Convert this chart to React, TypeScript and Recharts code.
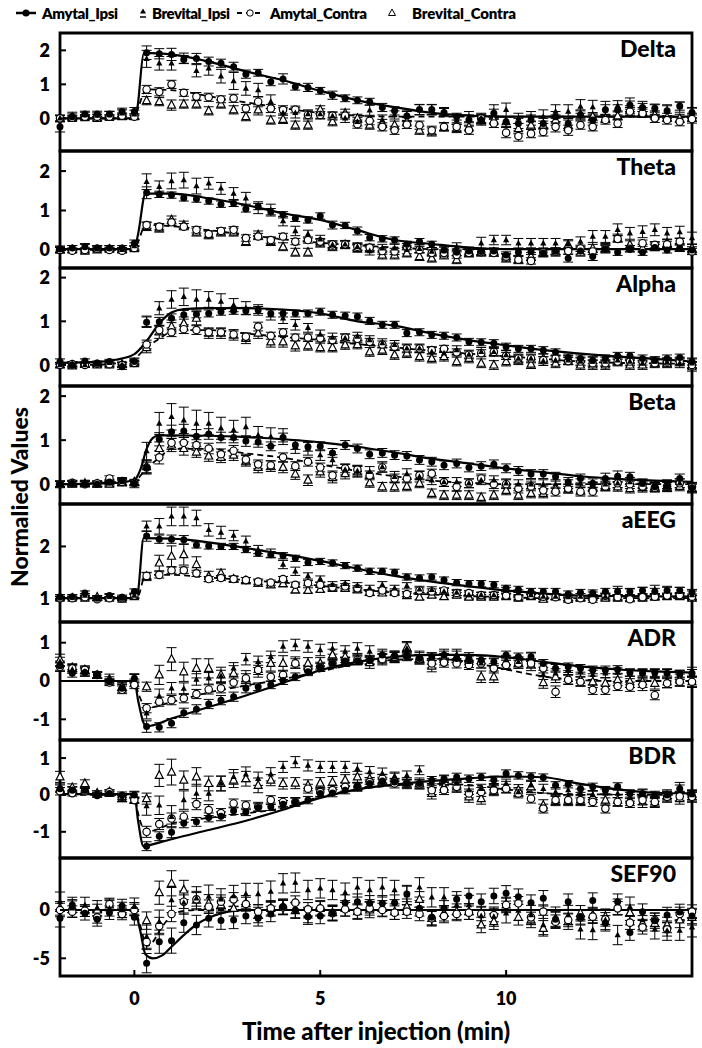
import React from 'react';
import { ComposedChart, XAxis, YAxis, Scatter, Line, ErrorBar, ReferenceArea } from 'recharts';

const FONT = 'Lato, "Open Sans", sans-serif';

const times = [-2, -1.67, -1.33, -1, -0.67, -0.33, 0, 0.33, 0.67, 1, 1.33, 1.67, 2,
  2.33, 2.67, 3, 3.33, 3.67, 4, 4.33, 4.67, 5, 5.33, 5.67, 6, 6.33,
  6.67, 7, 7.33, 7.67, 8, 8.33, 8.67, 9, 9.33, 9.67, 10, 10.33, 10.67,
  11, 11.33, 11.67, 12, 12.33, 12.67, 13, 13.33, 13.67, 14, 14.33, 14.67, 15];

const xTicks = [0, 5, 10];
const seriesNames = ['Amytal_Ipsi', 'Brevital_Ipsi', 'Amytal_Contra', 'Brevital_Contra'];

// ---------------- Delta ----------------
const deltaAI = [-0.25, 0.05, 0.13, 0.13, 0.13, 0.2, 0.2, 1.93, 1.9, 1.88, 1.73, 1.76, 1.67, 1.62, 1.52, 1.3, 1.34, 1.08, 1.16, 0.93, 0.91, 0.81, 0.68, 0.59, 0.53, 0.49, 0.32, 0.22, 0.07, 0.26, 0.26, 0.17, 0.05, -0.05, -0.05, 0.15, -0.1, -0.15, -0.05, -0.15, 0.05, -0.15, 0.1, -0.05, 0.25, 0.25, 0.39, 0.32, 0.3, 0.22, 0.36, 0.17];
const deltaBI = [0.0, 0.1, 0.1, 0.08, 0.1, 0.15, 0.12, 1.75, 1.62, 1.62, 1.77, 1.4, 1.47, 1.24, 1.1, 0.88, 0.83, 0.49, 0.16, 0.16, 0.13, 0.13, 0.07, 0.0, -0.1, 0.24, -0.05, 0.1, 0.05, 0.25, 0.25, 0.2, -0.05, 0.05, 0.0, 0.2, 0.25, 0.0, 0.05, 0.05, 0.2, 0.2, 0.35, 0.33, 0.3, 0.37, 0.4, 0.35, 0.25, 0.2, 0.33, 0.15];
const deltaAC = [0.0, 0.02, 0.05, 0.05, 0.05, 0.08, 0.05, 0.85, 0.78, 1.0, 0.75, 0.64, 0.62, 0.56, 0.59, 0.29, 0.49, 0.29, 0.25, 0.26, 0.1, 0.1, 0.08, 0.08, -0.17, -0.07, -0.25, -0.35, -0.18, -0.2, -0.35, -0.25, -0.25, -0.35, 0.0, -0.15, -0.42, -0.52, -0.45, -0.4, -0.25, -0.35, -0.2, -0.25, -0.05, -0.15, 0.2, 0.15, 0.0, -0.05, -0.1, -0.02];
const deltaBC = [0.0, 0.0, 0.02, 0.0, 0.03, 0.05, 0.05, 0.52, 0.49, 0.39, 0.42, 0.42, 0.22, 0.42, 0.25, 0.05, 0.25, -0.05, -0.03, -0.2, -0.2, 0.25, -0.1, 0.15, 0.0, -0.2, -0.15, -0.2, -0.1, -0.35, -0.4, -0.25, -0.3, -0.25, -0.05, -0.05, -0.1, -0.3, -0.2, -0.2, -0.05, -0.2, 0.1, 0.05, 0.0, 0.07, 0.25, 0.2, 0.1, 0.03, 0.0, 0.03];
const deltaAIErr = [0.15,0.08,0.08,0.08,0.08,0.1,0.12,0.2,0.15,0.18,0.12,0.15,0.13,
  0.12,0.13,0.12,0.1,0.12,0.15,0.1,0.12,0.1,0.12,0.1,0.1,0.1,
  0.12,0.12,0.15,0.15,0.15,0.12,0.1,0.15,0.15,0.12,0.15,0.15,0.15,
  0.15,0.15,0.15,0.15,0.15,0.15,0.15,0.12,0.12,0.12,0.15,0.12,0.15];
const deltaBIErr = [0.1,0.08,0.08,0.08,0.1,0.1,0.12,0.25,0.2,0.2,0.15,0.18,0.2,
  0.2,0.25,0.2,0.2,0.2,0.15,0.15,0.12,0.15,0.12,0.12,0.12,0.15,
  0.15,0.12,0.15,0.15,0.15,0.12,0.12,0.15,0.15,0.2,0.2,0.15,0.15,
  0.2,0.2,0.2,0.2,0.2,0.2,0.15,0.2,0.15,0.15,0.2,0.15,0.15];
const deltaACErr = [0.08,0.06,0.06,0.06,0.06,0.08,0.08,0.12,0.12,0.12,0.1,0.12,0.12,
  0.1,0.12,0.12,0.15,0.12,0.12,0.1,0.12,0.1,0.1,0.1,0.12,0.12,
  0.12,0.12,0.12,0.12,0.12,0.12,0.12,0.12,0.12,0.12,0.15,0.15,0.12,
  0.12,0.15,0.15,0.12,0.12,0.12,0.12,0.12,0.12,0.12,0.12,0.12,0.12];
const deltaBCErr = [0.08,0.06,0.06,0.06,0.06,0.08,0.08,0.12,0.12,0.15,0.12,0.12,0.12,
  0.12,0.12,0.12,0.15,0.12,0.12,0.12,0.12,0.12,0.12,0.12,0.12,0.12,
  0.12,0.12,0.12,0.12,0.12,0.12,0.12,0.12,0.12,0.12,0.15,0.15,0.12,
  0.12,0.15,0.15,0.12,0.12,0.12,0.12,0.12,0.12,0.12,0.12,0.12,0.12];
const deltaFitAIt = [-2, 0, 0.08, 0.25, 0.4, 1, 2, 3, 4, 5, 6, 7, 8, 9, 10, 12, 15];
const deltaFitAIv = [0, 0, 0.3, 1.9, 1.92, 1.88, 1.67, 1.38, 1.12, 0.81, 0.53, 0.33, 0.16, 0.08, 0.05, 0.05, 0.05];
const deltaFitACt = [-2, 0, 0.1, 0.33, 1, 2, 3, 4, 5, 6, 7, 15];
const deltaFitACv = [0, 0, 0.3, 0.85, 0.83, 0.65, 0.47, 0.3, 0.16, 0.08, 0.05, 0.05];

// ---------------- Theta ----------------
const thetaAI = [0.02, 0.05, 0.08, 0.05, 0.05, 0.05, 0.17, 1.45, 1.41, 1.39, 1.32, 1.29, 1.24, 1.16, 1.18, 1.04, 1.1, 0.97, 0.89, 0.8, 0.76, 0.86, 0.63, 0.62, 0.48, 0.31, 0.28, 0.25, 0.14, 0.21, 0.14, 0.0, -0.06, -0.03, -0.04, -0.03, -0.13, -0.06, -0.04, -0.08, -0.03, -0.21, -0.03, -0.17, 0.03, -0.06, 0.03, -0.06, 0.06, 0.0, 0.04, 0.0];
const thetaBI = [0.0, 0.05, 0.1, 0.05, 0.05, 0.0, 0.1, 1.73, 1.6, 1.75, 1.77, 1.62, 1.69, 1.56, 1.43, 1.31, 1.07, 1.01, 0.73, 0.48, 0.4, 0.27, 0.13, 0.14, 0.08, -0.03, 0.04, 0.04, 0.0, 0.03, -0.04, -0.03, 0.08, -0.03, 0.17, 0.25, 0.25, 0.17, 0.17, 0.17, 0.17, 0.14, 0.21, 0.34, 0.34, 0.51, 0.42, 0.46, 0.51, 0.42, 0.45, 0.3];
const thetaAC = [0.0, -0.02, 0.0, 0.03, 0.0, -0.02, 0.05, 0.63, 0.59, 0.7, 0.59, 0.51, 0.4, 0.48, 0.51, 0.3, 0.34, 0.25, 0.34, 0.21, 0.25, 0.21, 0.14, 0.14, 0.08, 0.06, -0.03, -0.04, 0.08, 0.0, -0.08, -0.08, -0.13, -0.08, -0.06, -0.08, -0.17, -0.25, -0.28, -0.06, -0.04, -0.03, 0.04, -0.04, 0.04, 0.28, 0.03, 0.17, 0.13, 0.14, 0.21, -0.04];
const thetaBC = [0.0, 0.0, -0.03, 0.0, 0.02, 0.0, 0.03, 0.59, 0.55, 0.76, 0.63, 0.45, 0.38, 0.45, 0.45, 0.21, 0.38, 0.21, 0.08, -0.06, -0.06, 0.17, 0.08, 0.13, 0.04, 0.04, -0.13, -0.13, -0.08, -0.17, -0.21, -0.13, -0.25, -0.08, -0.06, -0.06, -0.21, -0.25, -0.17, -0.08, -0.06, 0.13, -0.06, 0.04, 0.04, 0.3, 0.13, 0.04, 0.08, 0.17, 0.06, 0.04];
const thetaAIErr = [0.08,0.06,0.06,0.06,0.06,0.06,0.08,0.15,0.08,0.08,0.08,0.08,0.08,
  0.08,0.08,0.08,0.08,0.08,0.08,0.08,0.08,0.08,0.1,0.08,0.1,0.08,
  0.08,0.08,0.08,0.08,0.08,0.08,0.08,0.08,0.08,0.08,0.08,0.08,0.08,
  0.08,0.08,0.1,0.08,0.1,0.08,0.08,0.08,0.08,0.08,0.08,0.08,0.08];
const thetaBIErr = [0.08,0.06,0.06,0.06,0.06,0.06,0.08,0.2,0.15,0.2,0.2,0.2,0.15,
  0.15,0.15,0.15,0.15,0.15,0.12,0.12,0.1,0.1,0.1,0.1,0.1,0.1,
  0.1,0.1,0.1,0.1,0.1,0.1,0.1,0.1,0.15,0.12,0.12,0.12,0.12,
  0.12,0.12,0.12,0.12,0.15,0.15,0.15,0.15,0.15,0.15,0.15,0.15,0.15];
const thetaACErr = [0.06,0.05,0.05,0.05,0.05,0.05,0.06,0.08,0.08,0.08,0.08,0.08,0.08,
  0.08,0.08,0.08,0.08,0.08,0.08,0.08,0.08,0.08,0.08,0.08,0.08,0.08,
  0.08,0.08,0.08,0.08,0.08,0.08,0.08,0.08,0.08,0.08,0.08,0.08,0.08,
  0.08,0.08,0.08,0.08,0.08,0.1,0.08,0.08,0.08,0.08,0.08,0.08,0.08];
const thetaBCErr = [0.06,0.05,0.05,0.05,0.05,0.05,0.06,0.1,0.1,0.1,0.1,0.1,0.1,
  0.1,0.1,0.1,0.1,0.1,0.1,0.1,0.1,0.1,0.1,0.1,0.1,0.1,
  0.1,0.1,0.1,0.1,0.1,0.1,0.1,0.1,0.1,0.1,0.1,0.1,0.1,
  0.1,0.1,0.1,0.1,0.1,0.12,0.1,0.1,0.1,0.1,0.1,0.1,0.1];
const thetaFitAIt = [-2, 0, 0.1, 0.3, 1, 2, 3, 4, 5, 6, 7, 8, 9, 10, 15];
const thetaFitAIv = [0.02, 0.02, 0.4, 1.43, 1.43, 1.31, 1.14, 0.93, 0.76, 0.5, 0.25, 0.15, 0.06, 0.02, 0.02];
const thetaFitACt = [-2, 0, 0.1, 0.3, 1, 2, 3, 4, 5, 6, 7, 8, 15];
const thetaFitACv = [0, 0, 0.2, 0.63, 0.6, 0.5, 0.38, 0.27, 0.18, 0.12, 0.06, 0.02, 0.02];

// ---------------- Alpha ----------------
const alphaAI = [0.08, 0.0, 0.09, 0.04, 0.08, -0.04, 0.08, 0.98, 0.99, 1.07, 1.15, 1.16, 1.18, 1.22, 1.24, 1.24, 1.26, 1.18, 1.18, 1.18, 1.18, 1.22, 1.15, 1.13, 1.11, 1.01, 0.92, 0.92, 0.73, 0.75, 0.69, 0.67, 0.63, 0.53, 0.52, 0.5, 0.42, 0.37, 0.37, 0.34, 0.29, 0.17, 0.15, 0.11, 0.15, 0.21, 0.21, 0.15, 0.11, 0.15, 0.17, 0.08];
const alphaBI = [0.0, 0.03, 0.0, 0.02, 0.05, 0.0, 0.1, 1.0, 1.3, 1.5, 1.56, 1.5, 1.5, 1.45, 1.37, 1.3, 1.26, 1.15, 1.07, 0.92, 0.85, 0.7, 0.63, 0.61, 0.65, 0.57, 0.5, 0.46, 0.38, 0.38, 0.3, 0.27, 0.34, 0.24, 0.3, 0.3, 0.23, 0.15, 0.15, 0.09, 0.11, 0.11, 0.08, 0.08, 0.08, 0.11, 0.08, 0.04, 0.08, 0.06, 0.04, 0.04];
const alphaAC = [0.0, 0.02, 0.0, 0.03, 0.02, 0.0, 0.05, 0.47, 0.8, 0.75, 0.82, 0.8, 0.75, 0.75, 0.7, 0.65, 0.88, 0.67, 0.75, 0.63, 0.63, 0.61, 0.57, 0.63, 0.6, 0.53, 0.47, 0.42, 0.38, 0.38, 0.34, 0.37, 0.29, 0.24, 0.27, 0.3, 0.21, 0.15, 0.15, 0.11, 0.15, 0.09, 0.08, 0.04, 0.04, 0.08, 0.08, 0.08, 0.04, 0.08, 0.08, 0.0];
const alphaBC = [0.0, -0.02, 0.02, 0.0, 0.0, 0.02, 0.03, 0.4, 0.76, 0.88, 0.95, 1.07, 0.73, 0.73, 0.69, 0.61, 0.73, 0.53, 0.53, 0.44, 0.44, 0.4, 0.4, 0.46, 0.47, 0.3, 0.34, 0.23, 0.27, 0.19, 0.15, 0.19, 0.08, 0.15, 0.04, 0.0, 0.08, 0.11, 0.02, 0.15, 0.04, 0.11, 0.0, 0.0, 0.0, 0.08, 0.0, 0.0, 0.04, 0.04, 0.08, -0.04];
const alphaAIErr = [0.06,0.05,0.05,0.05,0.05,0.06,0.06,0.12,0.1,0.1,0.1,0.08,0.08,
  0.08,0.08,0.08,0.08,0.08,0.08,0.08,0.08,0.08,0.08,0.08,0.08,0.08,
  0.08,0.08,0.08,0.08,0.08,0.08,0.08,0.08,0.08,0.08,0.08,0.08,0.08,
  0.08,0.08,0.08,0.08,0.08,0.08,0.08,0.08,0.08,0.08,0.08,0.08,0.08];
const alphaBIErr = [0.06,0.05,0.05,0.05,0.05,0.06,0.06,0.12,0.15,0.2,0.2,0.22,0.18,
  0.18,0.15,0.15,0.12,0.12,0.12,0.12,0.1,0.1,0.1,0.1,0.1,0.1,
  0.1,0.1,0.1,0.1,0.1,0.1,0.1,0.1,0.1,0.1,0.1,0.1,0.1,
  0.1,0.1,0.1,0.1,0.1,0.1,0.1,0.1,0.1,0.1,0.1,0.1,0.1];
const alphaACErr = [0.05,0.05,0.05,0.05,0.05,0.05,0.05,0.1,0.1,0.1,0.1,0.1,0.08,
  0.08,0.08,0.08,0.1,0.08,0.08,0.08,0.08,0.08,0.08,0.08,0.08,0.08,
  0.08,0.08,0.08,0.08,0.08,0.08,0.08,0.08,0.08,0.08,0.08,0.08,0.08,
  0.08,0.08,0.08,0.08,0.08,0.08,0.08,0.08,0.08,0.08,0.08,0.08,0.08];
const alphaBCErr = [0.05,0.05,0.05,0.05,0.05,0.05,0.05,0.12,0.15,0.15,0.15,0.15,0.12,
  0.12,0.12,0.12,0.12,0.12,0.12,0.12,0.1,0.1,0.1,0.1,0.1,0.1,
  0.1,0.1,0.1,0.1,0.1,0.1,0.1,0.1,0.1,0.1,0.1,0.1,0.1,
  0.1,0.1,0.1,0.1,0.1,0.1,0.1,0.1,0.1,0.1,0.1,0.1,0.1];
const alphaFitAIt = [-2, -1, -0.5, 0, 0.33, 0.67, 1, 1.33, 2, 3, 4, 5, 6, 7, 8, 9, 10, 11, 12, 13, 14, 15];
const alphaFitAIv = [0.05, 0.07, 0.12, 0.25, 0.55, 0.95, 1.2, 1.28, 1.3, 1.3, 1.27, 1.18, 1.0, 0.9, 0.72, 0.57, 0.45, 0.34, 0.26, 0.19, 0.14, 0.08];
const alphaFitACt = [-2, -1, -0.5, 0, 0.33, 0.67, 1, 1.5, 2, 3, 4, 5, 6, 7, 8, 9, 10, 11, 12, 13, 15];
const alphaFitACv = [0, 0.01, 0.04, 0.15, 0.4, 0.6, 0.76, 0.8, 0.8, 0.72, 0.64, 0.57, 0.48, 0.4, 0.33, 0.26, 0.2, 0.14, 0.08, 0.05, 0.03];

// ---------------- Beta ----------------
const betaAI = [0.0, 0.02, 0.0, 0.0, 0.05, 0.09, 0.02, 0.38, 1.02, 1.19, 1.21, 1.09, 1.14, 1.06, 1.06, 0.98, 0.96, 0.86, 1.06, 0.89, 0.85, 0.86, 0.71, 0.89, 0.81, 0.68, 0.71, 0.66, 0.64, 0.55, 0.51, 0.43, 0.47, 0.38, 0.41, 0.45, 0.36, 0.3, 0.23, 0.23, 0.17, 0.05, 0.13, 0.02, 0.13, 0.18, 0.17, 0.02, -0.06, -0.05, 0.13, -0.08];
const betaBI = [0.0, 0.0, 0.03, 0.0, 0.02, 0.05, 0.0, 0.75, 1.38, 1.53, 1.45, 1.38, 1.38, 1.27, 1.23, 1.3, 1.11, 1.08, 1.08, 0.85, 0.81, 0.66, 0.55, 0.33, 0.3, 0.28, 0.39, 0.17, 0.23, 0.17, 0.09, 0.05, 0.05, 0.02, 0.09, 0.09, 0.02, 0.0, 0.0, 0.0, 0.0, 0.0, 0.02, -0.05, 0.0, 0.02, 0.05, 0.0, -0.06, 0.0, 0.02, -0.06];
const betaAC = [0.0, 0.03, 0.0, 0.02, 0.13, 0.05, 0.03, 0.38, 0.61, 0.94, 0.94, 0.89, 0.81, 0.68, 0.76, 0.56, 0.45, 0.43, 0.61, 0.41, 0.51, 0.38, 0.2, 0.36, 0.33, 0.2, 0.38, 0.13, 0.13, 0.2, 0.24, 0.05, -0.06, 0.02, 0.13, 0.0, 0.0, -0.1, -0.05, -0.14, -0.17, -0.1, -0.17, -0.17, -0.05, 0.02, 0.0, -0.05, -0.08, -0.05, 0.02, -0.06];
const betaBC = [0.0, 0.0, 0.02, 0.0, 0.0, 0.03, 0.05, 0.4, 0.81, 0.89, 0.81, 0.73, 0.64, 0.61, 0.66, 0.53, 0.38, 0.41, 0.38, 0.23, 0.09, 0.28, 0.15, 0.24, 0.28, 0.03, -0.06, -0.06, -0.05, 0.02, -0.21, -0.25, -0.25, -0.25, -0.3, -0.25, -0.14, -0.25, -0.21, -0.21, -0.1, -0.1, -0.14, -0.06, -0.05, -0.06, -0.1, -0.08, -0.05, -0.06, -0.05, -0.1];
const betaAIErr = [0.06,0.06,0.06,0.06,0.06,0.06,0.06,0.15,0.15,0.15,0.15,0.15,0.12,
  0.12,0.12,0.12,0.12,0.1,0.1,0.1,0.1,0.1,0.1,0.1,0.1,0.1,
  0.1,0.1,0.1,0.1,0.1,0.1,0.1,0.1,0.1,0.1,0.1,0.1,0.1,
  0.1,0.1,0.1,0.1,0.1,0.12,0.12,0.1,0.1,0.1,0.12,0.1,0.1];
const betaBIErr = [0.08,0.06,0.06,0.06,0.06,0.08,0.08,0.2,0.25,0.3,0.3,0.3,0.25,
  0.25,0.22,0.22,0.2,0.2,0.18,0.15,0.15,0.12,0.12,0.12,0.12,0.12,
  0.12,0.12,0.12,0.12,0.1,0.1,0.1,0.1,0.1,0.1,0.1,0.1,0.1,
  0.1,0.1,0.1,0.1,0.1,0.1,0.1,0.1,0.1,0.1,0.1,0.1,0.1];
const betaACErr = [0.06,0.06,0.06,0.06,0.06,0.06,0.06,0.12,0.15,0.15,0.12,0.12,0.12,
  0.12,0.12,0.12,0.1,0.1,0.1,0.1,0.1,0.1,0.1,0.1,0.1,0.1,
  0.1,0.1,0.1,0.1,0.1,0.1,0.1,0.1,0.1,0.1,0.1,0.1,0.1,
  0.1,0.1,0.1,0.1,0.1,0.1,0.1,0.1,0.1,0.1,0.1,0.1,0.1];
const betaBCErr = [0.06,0.06,0.06,0.06,0.06,0.06,0.06,0.15,0.15,0.15,0.15,0.12,0.12,
  0.12,0.12,0.12,0.12,0.12,0.12,0.12,0.12,0.12,0.12,0.12,0.12,0.1,
  0.1,0.1,0.1,0.1,0.1,0.1,0.1,0.1,0.1,0.1,0.1,0.1,0.1,
  0.1,0.1,0.1,0.1,0.1,0.1,0.1,0.1,0.1,0.1,0.1,0.1,0.1];
const betaFitAIt = [-2, -0.5, 0, 0.17, 0.33, 0.5, 0.67, 2, 3, 4, 5, 6, 7, 8, 9, 10, 11, 12, 13, 14, 15];
const betaFitAIv = [0, 0.03, 0.1, 0.35, 0.8, 1.05, 1.11, 1.1, 1.07, 1.02, 0.95, 0.85, 0.72, 0.58, 0.47, 0.36, 0.27, 0.18, 0.12, 0.08, 0.05];
const betaFitACt = [-2, 0, 0.33, 0.67, 1, 2, 3, 4, 5, 6, 7, 8, 9, 10, 15];
const betaFitACv = [0, 0.08, 0.36, 0.6, 0.8, 0.8, 0.7, 0.6, 0.45, 0.3, 0.18, 0.08, 0.03, 0, 0];

// ---------------- aEEG ----------------
const aeegAI = [1.03, 1.03, 1.1, 1.0, 1.05, 1.02, 1.13, 2.2, 2.14, 2.14, 2.13, 2.03, 2.01, 2.0, 2.0, 1.94, 1.87, 1.84, 1.82, 1.77, 1.69, 1.71, 1.68, 1.63, 1.58, 1.52, 1.52, 1.5, 1.41, 1.39, 1.41, 1.35, 1.3, 1.28, 1.28, 1.26, 1.19, 1.17, 1.13, 1.13, 1.13, 1.08, 1.11, 1.1, 1.13, 1.13, 1.13, 1.15, 1.13, 1.15, 1.15, 1.11];
const aeegBI = [1.0, 1.02, 1.05, 1.0, 1.03, 1.0, 1.05, 2.39, 2.39, 2.58, 2.58, 2.55, 2.32, 2.27, 2.21, 2.1, 1.94, 1.87, 1.65, 1.52, 1.43, 1.37, 1.26, 1.28, 1.24, 1.19, 1.26, 1.19, 1.24, 1.17, 1.16, 1.13, 1.11, 1.06, 1.06, 1.06, 1.15, 1.1, 1.06, 1.03, 1.03, 1.02, 1.03, 1.06, 1.03, 1.15, 1.1, 1.13, 1.17, 1.15, 1.13, 1.06];
const aeegAC = [1.0, 1.0, 1.02, 0.98, 1.0, 1.0, 1.05, 1.43, 1.45, 1.54, 1.54, 1.48, 1.37, 1.39, 1.37, 1.35, 1.32, 1.3, 1.37, 1.26, 1.29, 1.26, 1.21, 1.23, 1.19, 1.1, 1.15, 1.1, 1.08, 1.15, 1.13, 1.15, 1.1, 1.1, 1.06, 1.06, 1.05, 1.02, 1.05, 1.03, 1.02, 0.97, 1.0, 0.97, 1.05, 1.02, 0.98, 1.02, 1.03, 1.05, 1.06, 1.03];
const aeegBC = [1.0, 1.0, 1.0, 1.02, 1.0, 0.98, 1.03, 1.42, 1.68, 1.81, 1.84, 1.65, 1.42, 1.48, 1.37, 1.34, 1.29, 1.26, 1.28, 1.16, 1.15, 1.17, 1.19, 1.19, 1.16, 1.11, 1.1, 1.13, 1.05, 1.02, 1.06, 1.03, 1.06, 1.02, 1.02, 1.02, 1.03, 1.0, 1.03, 0.98, 1.03, 1.0, 1.0, 1.02, 1.0, 1.0, 1.0, 1.0, 1.02, 1.03, 1.03, 1.0];
const aeegAIErr = [0.04,0.04,0.04,0.04,0.04,0.04,0.05,0.1,0.08,0.08,0.08,0.06,0.06,
  0.06,0.06,0.06,0.06,0.06,0.06,0.06,0.06,0.06,0.06,0.06,0.06,0.06,
  0.06,0.06,0.06,0.06,0.06,0.06,0.06,0.06,0.06,0.06,0.06,0.06,0.06,
  0.06,0.06,0.06,0.06,0.06,0.06,0.06,0.06,0.06,0.06,0.06,0.06,0.06];
const aeegBIErr = [0.04,0.04,0.04,0.04,0.04,0.04,0.05,0.1,0.15,0.18,0.18,0.15,0.12,
  0.12,0.1,0.1,0.08,0.08,0.08,0.08,0.06,0.06,0.06,0.06,0.06,0.06,
  0.06,0.06,0.06,0.06,0.06,0.06,0.06,0.06,0.06,0.06,0.06,0.06,0.06,
  0.06,0.06,0.06,0.06,0.06,0.06,0.08,0.08,0.08,0.08,0.08,0.08,0.08];
const aeegACErr = [0.03,0.03,0.03,0.03,0.03,0.03,0.04,0.06,0.06,0.06,0.06,0.06,0.05,
  0.05,0.05,0.05,0.05,0.05,0.05,0.05,0.05,0.05,0.05,0.05,0.05,0.05,
  0.05,0.05,0.05,0.05,0.05,0.05,0.05,0.05,0.05,0.05,0.05,0.05,0.05,
  0.05,0.05,0.05,0.05,0.05,0.05,0.05,0.05,0.05,0.05,0.05,0.05,0.05];
const aeegBCErr = [0.03,0.03,0.03,0.03,0.03,0.03,0.04,0.08,0.15,0.2,0.2,0.15,0.1,
  0.08,0.06,0.06,0.06,0.06,0.06,0.06,0.05,0.05,0.05,0.05,0.05,0.05,
  0.05,0.05,0.05,0.05,0.05,0.05,0.05,0.05,0.05,0.05,0.05,0.05,0.05,
  0.05,0.05,0.05,0.05,0.05,0.05,0.05,0.05,0.05,0.05,0.05,0.05,0.05];
const aeegFitAIt = [-2, 0, 0.08, 0.25, 1, 2, 3, 4, 5, 6, 7, 8, 9, 10, 11, 12, 13, 15];
const aeegFitAIv = [1, 1, 1.05, 2.16, 2.15, 2.08, 1.97, 1.85, 1.72, 1.57, 1.43, 1.32, 1.23, 1.15, 1.09, 1.05, 1.04, 1.03];
const aeegFitACt = [-2, 0.08, 0.3, 1, 2, 3, 4, 5, 6, 7, 8, 9, 10, 11, 15];
const aeegFitACv = [1, 1.02, 1.45, 1.45, 1.4, 1.35, 1.3, 1.24, 1.17, 1.11, 1.07, 1.04, 1.02, 1.0, 1.0];

// ---------------- ADR ----------------
const adrAI = [0.4, 0.2, 0.22, 0.16, -0.02, -0.19, 0.07, -1.19, -1.21, -1.1, -0.83, -0.74, -0.6, -0.5, -0.41, -0.19, -0.15, -0.1, 0.01, 0.11, 0.24, 0.36, 0.46, 0.5, 0.53, 0.55, 0.68, 0.65, 0.65, 0.59, 0.63, 0.68, 0.59, 0.59, 0.55, 0.5, 0.68, 0.63, 0.63, 0.46, 0.33, 0.37, 0.33, 0.29, 0.29, 0.3, 0.22, 0.2, 0.22, 0.2, 0.18, 0.2];
const adrBI = [0.5, 0.3, 0.25, 0.15, 0.1, -0.15, 0.07, -0.84, -0.39, -0.19, -0.2, 0.04, 0.07, 0.13, 0.33, 0.57, 0.5, 0.63, 0.9, 0.94, 0.9, 0.81, 0.85, 0.77, 0.85, 0.77, 0.68, 0.63, 0.85, 0.63, 0.59, 0.68, 0.68, 0.5, 0.46, 0.46, 0.55, 0.5, 0.63, 0.16, 0.2, 0.29, 0.24, 0.16, 0.2, 0.22, 0.18, 0.2, 0.18, 0.2, 0.16, 0.24];
const adrAC = [0.37, 0.33, 0.29, 0.16, -0.04, -0.23, -0.1, -0.71, -0.54, -0.5, -0.45, -0.34, -0.22, -0.19, -0.04, 0.07, 0.29, 0.11, 0.16, 0.46, 0.29, 0.37, 0.46, 0.5, 0.55, 0.55, 0.57, 0.63, 0.65, 0.57, 0.46, 0.48, 0.46, 0.42, 0.46, 0.33, 0.42, 0.46, 0.46, 0.33, -0.28, 0.03, -0.02, -0.23, -0.23, -0.13, -0.15, -0.1, -0.37, -0.06, -0.02, -0.02];
const adrBC = [0.55, 0.35, 0.29, 0.15, 0.03, -0.15, -0.05, -0.15, 0.16, 0.57, 0.24, 0.33, 0.33, 0.16, 0.2, 0.07, 0.3, 0.46, 0.46, 0.48, 0.46, 0.46, 0.68, 0.63, 0.57, 0.48, 0.57, 0.63, 0.88, 0.59, 0.39, 0.57, 0.63, 0.59, 0.11, 0.11, 0.48, 0.48, 0.42, -0.04, 0.11, 0.07, 0.03, -0.02, -0.06, 0.03, -0.02, -0.02, -0.06, -0.02, 0.03, -0.02];
const adrAIErr = [0.12,0.1,0.1,0.08,0.08,0.1,0.1,0.15,0.12,0.12,0.12,0.12,0.12,
  0.12,0.12,0.12,0.1,0.1,0.1,0.1,0.1,0.1,0.1,0.1,0.1,0.1,
  0.1,0.1,0.1,0.1,0.1,0.1,0.1,0.1,0.1,0.1,0.1,0.1,0.1,
  0.1,0.1,0.1,0.1,0.1,0.1,0.1,0.1,0.1,0.1,0.1,0.1,0.1];
const adrBIErr = [0.12,0.1,0.1,0.08,0.08,0.1,0.12,0.15,0.18,0.15,0.15,0.15,0.15,
  0.15,0.15,0.15,0.15,0.15,0.15,0.15,0.15,0.15,0.15,0.15,0.15,0.15,
  0.15,0.15,0.15,0.15,0.15,0.15,0.15,0.15,0.12,0.12,0.12,0.12,0.12,
  0.12,0.12,0.12,0.12,0.12,0.12,0.12,0.12,0.12,0.12,0.12,0.12,0.12];
const adrACErr = [0.12,0.1,0.1,0.08,0.08,0.1,0.1,0.12,0.12,0.12,0.12,0.12,0.12,
  0.12,0.12,0.12,0.12,0.12,0.12,0.12,0.12,0.12,0.12,0.12,0.12,0.12,
  0.12,0.12,0.12,0.12,0.12,0.12,0.12,0.12,0.12,0.12,0.12,0.12,0.12,
  0.12,0.15,0.12,0.12,0.12,0.12,0.12,0.12,0.15,0.12,0.12,0.12,0.12];
const adrBCErr = [0.15,0.1,0.1,0.08,0.08,0.1,0.1,0.12,0.25,0.3,0.25,0.25,0.25,
  0.2,0.2,0.2,0.2,0.2,0.2,0.15,0.15,0.15,0.15,0.15,0.15,0.15,
  0.15,0.15,0.15,0.15,0.15,0.15,0.15,0.15,0.15,0.15,0.15,0.15,0.15,
  0.15,0.15,0.15,0.15,0.15,0.15,0.15,0.15,0.15,0.15,0.15,0.15,0.15];
const adrFitAIt = [-2, 0, 0.1, 0.25, 0.33, 1, 2, 3, 4, 5, 6, 7, 8, 9, 10, 11, 12, 13, 14, 15];
const adrFitAIv = [0, 0, -0.5, -1.1, -1.18, -0.98, -0.68, -0.38, -0.05, 0.28, 0.5, 0.63, 0.68, 0.68, 0.62, 0.5, 0.38, 0.3, 0.25, 0.22];
const adrFitACt = [-2, 0, 0.1, 0.33, 1, 2, 3, 4, 5, 6, 7, 8, 9, 10, 11, 12, 13, 15];
const adrFitACv = [0, 0, -0.3, -0.7, -0.55, -0.3, -0.12, 0.05, 0.25, 0.45, 0.55, 0.58, 0.5, 0.3, 0.12, 0.02, 0, 0];

// ---------------- BDR ----------------
const bdrAI = [0.17, 0.13, 0.13, 0.0, 0.04, 0.0, 0.0, -1.39, -1.12, -1.01, -0.77, -0.73, -0.61, -0.58, -0.43, -0.46, -0.34, -0.32, -0.25, -0.19, -0.14, 0.04, 0.05, 0.13, 0.22, 0.31, 0.38, 0.35, 0.31, 0.31, 0.4, 0.44, 0.49, 0.44, 0.49, 0.41, 0.58, 0.53, 0.5, 0.47, 0.26, 0.29, 0.17, 0.22, 0.13, 0.23, 0.04, 0.04, 0.0, 0.0, 0.17, 0.04];
const bdrBI = [0.2, 0.15, 0.1, 0.05, 0.02, -0.1, 0.0, -0.3, -0.28, -0.59, -0.14, 0.04, 0.04, 0.31, 0.49, 0.56, 0.44, 0.56, 0.76, 0.89, 0.8, 0.76, 0.76, 0.76, 0.71, 0.62, 0.58, 0.5, 0.53, 0.67, 0.32, 0.4, 0.31, 0.13, 0.17, 0.26, 0.31, 0.08, 0.26, 0.17, 0.08, 0.13, 0.04, 0.0, 0.04, 0.04, -0.05, 0.04, -0.05, 0.02, 0.22, 0.0];
const bdrAC = [0.1, 0.05, 0.1, 0.0, 0.08, -0.05, -0.14, -1.0, -0.79, -0.64, -0.59, -0.25, -0.41, -0.49, -0.23, -0.28, -0.32, -0.14, -0.19, -0.19, 0.17, 0.08, 0.13, 0.22, 0.22, 0.35, 0.44, 0.31, 0.31, 0.29, 0.13, 0.13, 0.22, 0.04, 0.08, 0.13, 0.17, 0.04, -0.1, -0.37, -0.14, -0.14, -0.14, -0.19, -0.37, -0.19, -0.22, -0.14, -0.19, -0.05, -0.04, -0.05];
const bdrBC = [0.49, 0.2, 0.31, 0.05, 0.08, -0.1, -0.14, -0.1, 0.53, 0.62, 0.4, 0.49, 0.31, 0.31, 0.4, 0.44, 0.26, 0.4, 0.31, 0.32, 0.26, 0.32, 0.35, 0.4, 0.49, 0.44, 0.4, 0.44, 0.32, 0.31, 0.04, 0.22, 0.22, -0.05, -0.1, 0.13, 0.22, 0.13, 0.22, -0.28, -0.14, -0.14, -0.14, -0.05, -0.14, -0.14, -0.14, -0.19, -0.19, -0.05, -0.1, -0.05];
const bdrAIErr = [0.1,0.08,0.08,0.06,0.06,0.08,0.08,0.12,0.12,0.15,0.12,0.12,0.12,
  0.12,0.1,0.1,0.1,0.1,0.1,0.1,0.1,0.1,0.1,0.1,0.1,0.1,
  0.1,0.1,0.1,0.1,0.1,0.1,0.1,0.1,0.1,0.1,0.1,0.1,0.1,
  0.1,0.1,0.1,0.1,0.1,0.1,0.1,0.1,0.1,0.1,0.1,0.1,0.1];
const bdrBIErr = [0.1,0.08,0.08,0.06,0.06,0.08,0.1,0.25,0.25,0.3,0.25,0.25,0.2,
  0.2,0.2,0.2,0.18,0.18,0.15,0.15,0.15,0.15,0.15,0.15,0.15,0.15,
  0.15,0.12,0.12,0.12,0.12,0.12,0.12,0.12,0.12,0.12,0.12,0.12,0.12,
  0.12,0.12,0.12,0.12,0.12,0.12,0.12,0.12,0.12,0.12,0.12,0.12,0.12];
const bdrACErr = [0.1,0.08,0.08,0.06,0.06,0.08,0.08,0.15,0.15,0.15,0.15,0.15,0.15,
  0.12,0.12,0.12,0.12,0.12,0.12,0.12,0.12,0.12,0.12,0.12,0.12,0.12,
  0.12,0.12,0.12,0.12,0.12,0.12,0.12,0.12,0.12,0.12,0.12,0.12,0.12,
  0.12,0.12,0.12,0.12,0.12,0.12,0.12,0.12,0.12,0.12,0.12,0.12,0.12];
const bdrBCErr = [0.15,0.1,0.1,0.06,0.06,0.08,0.08,0.15,0.3,0.35,0.25,0.25,0.2,
  0.2,0.2,0.2,0.2,0.15,0.15,0.15,0.15,0.15,0.15,0.15,0.15,0.15,
  0.15,0.15,0.15,0.15,0.15,0.15,0.15,0.15,0.15,0.15,0.15,0.15,0.15,
  0.15,0.15,0.15,0.15,0.15,0.15,0.15,0.15,0.15,0.15,0.15,0.15,0.15];
const bdrFitAIt = [-2, 0, 0.1, 0.25, 0.33, 1, 2, 3, 4, 5, 6, 7, 8, 9, 10, 11, 12, 13, 14, 15];
const bdrFitAIv = [0.02, 0.02, -0.7, -1.4, -1.38, -1.2, -0.95, -0.7, -0.4, -0.08, 0.15, 0.28, 0.38, 0.45, 0.5, 0.48, 0.3, 0.15, 0.06, 0.04];
const bdrFitACt = [-2, 0, 0.1, 0.33, 1, 2, 3, 4, 5, 6, 7, 8, 9, 10, 11, 12, 15];
const bdrFitACv = [0, 0, -0.5, -1.0, -0.78, -0.62, -0.5, -0.35, -0.05, 0.15, 0.26, 0.3, 0.27, 0.15, 0.05, 0.02, 0];

// ---------------- SEF90 ----------------
const sefAI = [-0.86, 0.52, -0.34, -0.97, -0.28, 0.41, -0.76, -5.5, -3.28, -3.17, -1.31, -1.55, -0.86, -1.1, -1.03, -0.62, -0.86, -0.41, 0.3, 0.0, -0.69, -0.62, -0.34, 0.76, 0.86, 0.69, 0.69, 0.76, 1.66, 0.17, -0.76, 0.17, 1.1, 1.45, 0.86, 1.45, 1.72, 1.38, 0.76, 1.21, -0.97, 0.86, -0.76, 0.97, -1.38, 0.86, -2.34, -0.17, -1.1, -0.52, -0.2, -0.62];
const sefBI = [0.86, 0.17, 0.52, 0.17, 0.17, 0.0, 0.34, -2.76, -1.21, 1.03, 0.76, 1.21, 1.38, 1.1, 1.45, 1.66, 1.66, 1.9, 2.76, 2.83, 2.07, 2.24, 2.07, 1.79, 2.34, 2.07, 2.34, 2.07, 1.55, 2.34, 1.31, 1.31, 0.52, 0.52, -0.62, -0.69, -0.34, -0.07, -0.52, -1.55, -0.69, -0.52, -2.0, -2.07, -1.03, -2.59, 0.34, -1.03, -2.0, -2.14, -2.14, -1.79];
const sefAC = [0.0, -0.17, -0.07, -0.76, 0.62, -0.41, 0.0, -3.3, -1.66, -0.41, 0.86, 1.1, 0.34, 0.86, 1.1, 0.62, -0.17, 0.17, 0.28, 0.76, 0.07, 0.17, -0.34, 0.07, -0.17, 0.17, 0.0, -0.28, -0.17, -0.41, -0.86, -0.62, -0.41, -0.28, -0.41, -0.52, 0.52, 0.69, -0.76, -0.17, -1.21, -1.03, -0.76, -0.69, -0.97, 0.17, -1.31, -1.79, -1.03, -2.0, -0.41, -0.17];
const sefBC = [0.17, 0.34, -0.07, 0.0, 0.52, -0.17, 0.17, -1.1, 1.79, 2.76, 2.07, 1.03, 0.69, 0.52, 0.17, 0.69, -0.52, 0.17, 0.34, -0.07, -0.52, 0.17, -0.28, 0.17, -0.17, 0.0, 0.17, -0.17, 0.34, 1.1, -0.86, -0.34, -0.17, -0.17, -1.55, -1.21, 0.52, -0.76, -1.03, -1.9, -1.03, -1.21, -0.34, -0.52, -0.69, 0.34, -0.28, -1.38, -1.38, -1.55, -1.03, -0.76];
const sefAIErr = [0.9,0.8,0.7,0.7,0.7,0.7,0.8,1.0,1.2,1.3,1.0,1.0,0.9,
  0.9,0.9,0.8,0.8,0.8,0.8,0.8,0.8,0.8,0.8,0.8,0.8,0.8,
  0.8,0.8,0.8,0.8,0.8,0.8,0.8,0.8,0.8,0.8,0.8,0.8,0.8,
  0.8,0.8,0.8,0.8,0.8,0.8,0.8,0.8,0.8,0.8,0.8,0.8,0.8];
const sefBIErr = [1.0,0.9,0.8,0.8,0.8,0.8,0.9,1.2,1.2,1.3,1.2,1.2,1.2,
  1.1,1.1,1.1,1.1,1.1,1.0,1.0,1.0,1.0,1.0,1.0,1.0,1.0,
  1.0,1.0,1.0,1.0,1.0,1.0,1.0,1.0,1.0,1.0,1.0,1.0,1.0,
  1.0,1.0,1.0,1.0,1.0,1.0,1.0,1.0,1.0,1.0,1.0,1.0,1.0];
const sefACErr = [0.7,0.6,0.6,0.6,0.6,0.6,0.6,0.8,0.9,0.8,0.7,0.7,0.7,
  0.7,0.7,0.7,0.7,0.7,0.7,0.7,0.7,0.7,0.7,0.7,0.7,0.7,
  0.7,0.7,0.7,0.7,0.7,0.7,0.7,0.7,0.7,0.7,0.7,0.7,0.7,
  0.7,0.7,0.7,0.7,0.7,0.7,0.7,0.7,0.7,0.7,0.7,0.7,0.7];
const sefBCErr = [0.7,0.6,0.6,0.6,0.6,0.6,0.6,0.9,1.2,1.3,1.0,0.9,0.9,
  0.8,0.8,0.8,0.8,0.8,0.8,0.8,0.8,0.8,0.8,0.8,0.8,0.8,
  0.8,0.8,0.8,0.8,0.8,0.8,0.8,0.8,0.8,0.8,0.8,0.8,0.8,
  0.8,0.8,0.8,0.8,0.8,0.8,0.8,0.8,0.8,0.8,0.8,0.8,0.8];
const sefFitAIt = [-2, 0, 0.15, 0.3, 0.5, 0.75, 1, 1.33, 1.67, 2, 2.33, 2.67, 3, 15];
const sefFitAIv = [0, 0, -2, -4.6, -5.0, -4.7, -3.8, -2.6, -1.5, -0.8, -0.35, -0.1, 0, 0];
const sefFitACt = [-2, 0, 0.15, 0.33, 0.5, 0.67, 1, 1.33, 1.67, 15];
const sefFitACv = [0, 0, -1.5, -3.7, -3.3, -2.2, -0.6, -0.1, 0, 0];

// ---------------- panels ----------------
const panels = [
  { name: 'Delta', top: 33, height: 118, domain: [-0.96, 2.51], ticks: [0, 1, 2],
    ai: deltaAI, bi: deltaBI, ac: deltaAC, bc: deltaBC, aiE: deltaAIErr, biE: deltaBIErr, acE: deltaACErr, bcE: deltaBCErr,
    fitAIt: deltaFitAIt, fitAIv: deltaFitAIv, fitACt: deltaFitACt, fitACv: deltaFitACv },
  { name: 'Theta', top: 151, height: 117, domain: [-0.46, 2.51], ticks: [0, 1, 2],
    ai: thetaAI, bi: thetaBI, ac: thetaAC, bc: thetaBC, aiE: thetaAIErr, biE: thetaBIErr, acE: thetaACErr, bcE: thetaBCErr,
    fitAIt: thetaFitAIt, fitAIv: thetaFitAIv, fitACt: thetaFitACt, fitACv: thetaFitACv },
  { name: 'Alpha', top: 268, height: 118, domain: [-0.48, 2.22], ticks: [0, 1, 2],
    ai: alphaAI, bi: alphaBI, ac: alphaAC, bc: alphaBC, aiE: alphaAIErr, biE: alphaBIErr, acE: alphaACErr, bcE: alphaBCErr,
    fitAIt: alphaFitAIt, fitAIv: alphaFitAIv, fitACt: alphaFitACt, fitACv: alphaFitACv },
  { name: 'Beta', top: 386, height: 118, domain: [-0.45, 2.23], ticks: [0, 1, 2],
    ai: betaAI, bi: betaBI, ac: betaAC, bc: betaBC, aiE: betaAIErr, biE: betaBIErr, acE: betaACErr, bcE: betaBCErr,
    fitAIt: betaFitAIt, fitAIv: betaFitAIv, fitACt: betaFitACt, fitACv: betaFitACv },
  { name: 'aEEG', top: 504, height: 118, domain: [0.54, 2.82], ticks: [1, 2],
    ai: aeegAI, bi: aeegBI, ac: aeegAC, bc: aeegBC, aiE: aeegAIErr, biE: aeegBIErr, acE: aeegACErr, bcE: aeegBCErr,
    fitAIt: aeegFitAIt, fitAIv: aeegFitAIv, fitACt: aeegFitACt, fitACv: aeegFitACv },
  { name: 'ADR', top: 622, height: 118, domain: [-1.54, 1.54], ticks: [-1, 0, 1],
    ai: adrAI, bi: adrBI, ac: adrAC, bc: adrBC, aiE: adrAIErr, biE: adrBIErr, acE: adrACErr, bcE: adrBCErr,
    fitAIt: adrFitAIt, fitAIv: adrFitAIv, fitACt: adrFitACt, fitACv: adrFitACv },
  { name: 'BDR', top: 740, height: 118, domain: [-1.71, 1.49], ticks: [-1, 0, 1],
    ai: bdrAI, bi: bdrBI, ac: bdrAC, bc: bdrBC, aiE: bdrAIErr, biE: bdrBIErr, acE: bdrACErr, bcE: bdrBCErr,
    fitAIt: bdrFitAIt, fitAIv: bdrFitAIv, fitACt: bdrFitACt, fitACv: bdrFitACv },
  { name: 'SEF90', top: 858, height: 118, domain: [-6.83, 5.38], ticks: [-5, 0],
    ai: sefAI, bi: sefBI, ac: sefAC, bc: sefBC, aiE: sefAIErr, biE: sefBIErr, acE: sefACErr, bcE: sefBCErr,
    fitAIt: sefFitAIt, fitAIv: sefFitAIv, fitACt: sefFitACt, fitACv: sefFitACv },
];

const rows = (vals: number[], errs: number[]) => times.map((t, i) => ({ t, v: vals[i], e: errs[i] ?? 0 }));
const fitRows = (ts: number[], vs: number[]) => ts.map((t, i) => ({ t, v: vs[i] }));

const shapeAI = (p: any) => (p.cx == null ? <g /> : <circle cx={p.cx} cy={p.cy} r={3.5} fill="#000" />);
const shapeBI = (p: any) => (p.cx == null ? <g /> : <path d={`M${p.cx},${p.cy - 3.5}L${p.cx + 3.1},${p.cy + 2.2}L${p.cx - 3.1},${p.cy + 2.2}Z`} fill="#000" />);
const shapeAC = (p: any) => (p.cx == null ? <g /> : <circle cx={p.cx} cy={p.cy} r={3.7} fill="#fff" stroke="#000" strokeWidth={1.2} />);
const shapeBC = (p: any) => (p.cx == null ? <g /> : <path d={`M${p.cx},${p.cy - 4.6}L${p.cx + 4},${p.cy + 3}L${p.cx - 4},${p.cy + 3}Z`} fill="#fff" stroke="#000" strokeWidth={1.2} />);

const YTick = (props: any) => {
  const { x, y, payload } = props;
  return (
    <g>
      <line x1={x} x2={x + 6} y1={y} y2={y} stroke="#000" strokeWidth={2} />
      <text x={x - 10} y={y} dy="0.36em" textAnchor="end" fontFamily={FONT} fontWeight={800} fontSize={18} fill="#000">
        {String(payload.value)}
      </text>
    </g>
  );
};

const XTick = (props: any) => {
  const { x, y, payload, show } = props;
  return (
    <g>
      <line x1={x} x2={x} y1={y} y2={y - 6} stroke="#000" strokeWidth={2} />
      {show ? (
        <text x={x} y={y + 29} textAnchor="middle" fontFamily={FONT} fontWeight={800} fontSize={18} fill="#000">
          {String(payload.value)}
        </text>
      ) : null}
    </g>
  );
};

function Panel({ p, last }: { p: any; last: boolean }) {
  const padT = 4;
  const padB = last ? 0 : 4;
  const axisH = last ? 44 : 0;
  const chartH = p.height + padT + padB + axisH;
  const series = [
    { key: 'bc', vals: p.bc, errs: p.bcE, shape: shapeBC, name: seriesNames[3] },
    { key: 'ac', vals: p.ac, errs: p.acE, shape: shapeAC, name: seriesNames[2] },
    { key: 'bi', vals: p.bi, errs: p.biE, shape: shapeBI, name: seriesNames[1] },
    { key: 'ai', vals: p.ai, errs: p.aiE, shape: shapeAI, name: seriesNames[0] },
  ];
  return (
    <>
      <div style={{ position: 'absolute', left: 0, top: p.top - padT, width: 702, height: chartH }}>
        <ComposedChart width={702} height={chartH} margin={{ top: padT, right: 10, bottom: padB, left: 0 }}>
          <XAxis
            type="number"
            dataKey="t"
            domain={[-2, 15]}
            ticks={xTicks}
            interval={0}
            height={axisH}
            axisLine={false}
            tickLine={false}
            tickSize={0}
            tickMargin={0}
            tick={(tp: any) => <XTick {...tp} show={last} />}
          />
          <YAxis
            type="number"
            domain={p.domain}
            ticks={p.ticks}
            interval={0}
            width={60}
            axisLine={false}
            tickLine={false}
            tickSize={0}
            tickMargin={0}
            tick={(tp: any) => <YTick {...tp} />}
          />
          <ReferenceArea x1={-2} x2={15} y1={p.domain[0]} y2={p.domain[1]} fill="none" fillOpacity={0} stroke="#000" strokeWidth={2.8} />
          <Line data={fitRows(p.fitACt, p.fitACv)} dataKey="v" type="monotone" stroke="#000" strokeWidth={1.8} strokeDasharray="6 4" dot={false} activeDot={false} isAnimationActive={false} />
          <Line data={fitRows(p.fitAIt, p.fitAIv)} dataKey="v" type="monotone" stroke="#000" strokeWidth={2.2} dot={false} activeDot={false} isAnimationActive={false} />
          {series.map((s) => (
            <Scatter key={s.key} name={s.name} data={rows(s.vals, s.errs)} dataKey="v" shape={s.shape} isAnimationActive={false}>
              <ErrorBar dataKey="e" direction="y" width={5} stroke="#000" strokeWidth={1} isAnimationActive={false} />
            </Scatter>
          ))}
        </ComposedChart>
      </div>
      <div
        style={{
          position: 'absolute',
          right: 26,
          top: p.top + 2,
          fontFamily: FONT,
          fontWeight: 900,
          fontSize: 23,
          lineHeight: '26px',
          color: '#000',
        }}
      >
        {p.name}
      </div>
    </>
  );
}

function LegendRow() {
  const ts = { fontFamily: FONT, fontWeight: 800, fontSize: 15, fill: '#000', lengthAdjust: 'spacing' } as any;
  return (
    <svg width={702} height={30} style={{ position: 'absolute', left: 0, top: 0 }}>
      <line x1={16} x2={36} y1={13} y2={13} stroke="#000" strokeWidth={2.5} />
      <circle cx={26} cy={13} r={3.5} fill="#000" />
      <text x={42} y={19} textLength={76} {...ts}>{seriesNames[0]}</text>
      <path d="M143,8.5L146,13.5L140,13.5Z" fill="#000" />
      <line x1={140} x2={146} y1={17} y2={17} stroke="#000" strokeWidth={1.5} />
      <text x={152} y={19} textLength={78} {...ts}>{seriesNames[1]}</text>
      <line x1={237} x2={263} y1={13} y2={13} stroke="#000" strokeWidth={2} strokeDasharray="5 4" />
      <circle cx={250} cy={13} r={3.2} fill="#fff" stroke="#000" strokeWidth={1} />
      <text x={270} y={19} textLength={97} {...ts}>{seriesNames[2]}</text>
      <path d="M392,9L395.5,15.5L388.5,15.5Z" fill="#fff" stroke="#000" strokeWidth={1} />
      <text x={412} y={19} textLength={104} {...ts}>{seriesNames[3]}</text>
    </svg>
  );
}

export default function App() {
  return (
    <div style={{ position: 'absolute', left: 0, top: 0, width: 702, height: 1048, background: '#fff', overflow: 'hidden' }}>
      <LegendRow />
      {panels.map((p, k) => (
        <Panel key={p.name} p={p} last={k === panels.length - 1} />
      ))}
      <div
        style={{
          position: 'absolute',
          left: 0,
          width: 752,
          top: 1017,
          textAlign: 'center',
          fontFamily: FONT,
          fontWeight: 900,
          fontSize: 24,
          lineHeight: '28px',
          color: '#000',
        }}
      >
        Time after injection (min)
      </div>
      <div
        style={{
          position: 'absolute',
          left: 19 - 150,
          top: 497 - 14,
          width: 300,
          height: 28,
          lineHeight: '28px',
          textAlign: 'center',
          transform: 'rotate(-90deg)',
          fontFamily: FONT,
          fontWeight: 900,
          fontSize: 23,
          color: '#000',
        }}
      >
        Normalied Values
      </div>
    </div>
  );
}
